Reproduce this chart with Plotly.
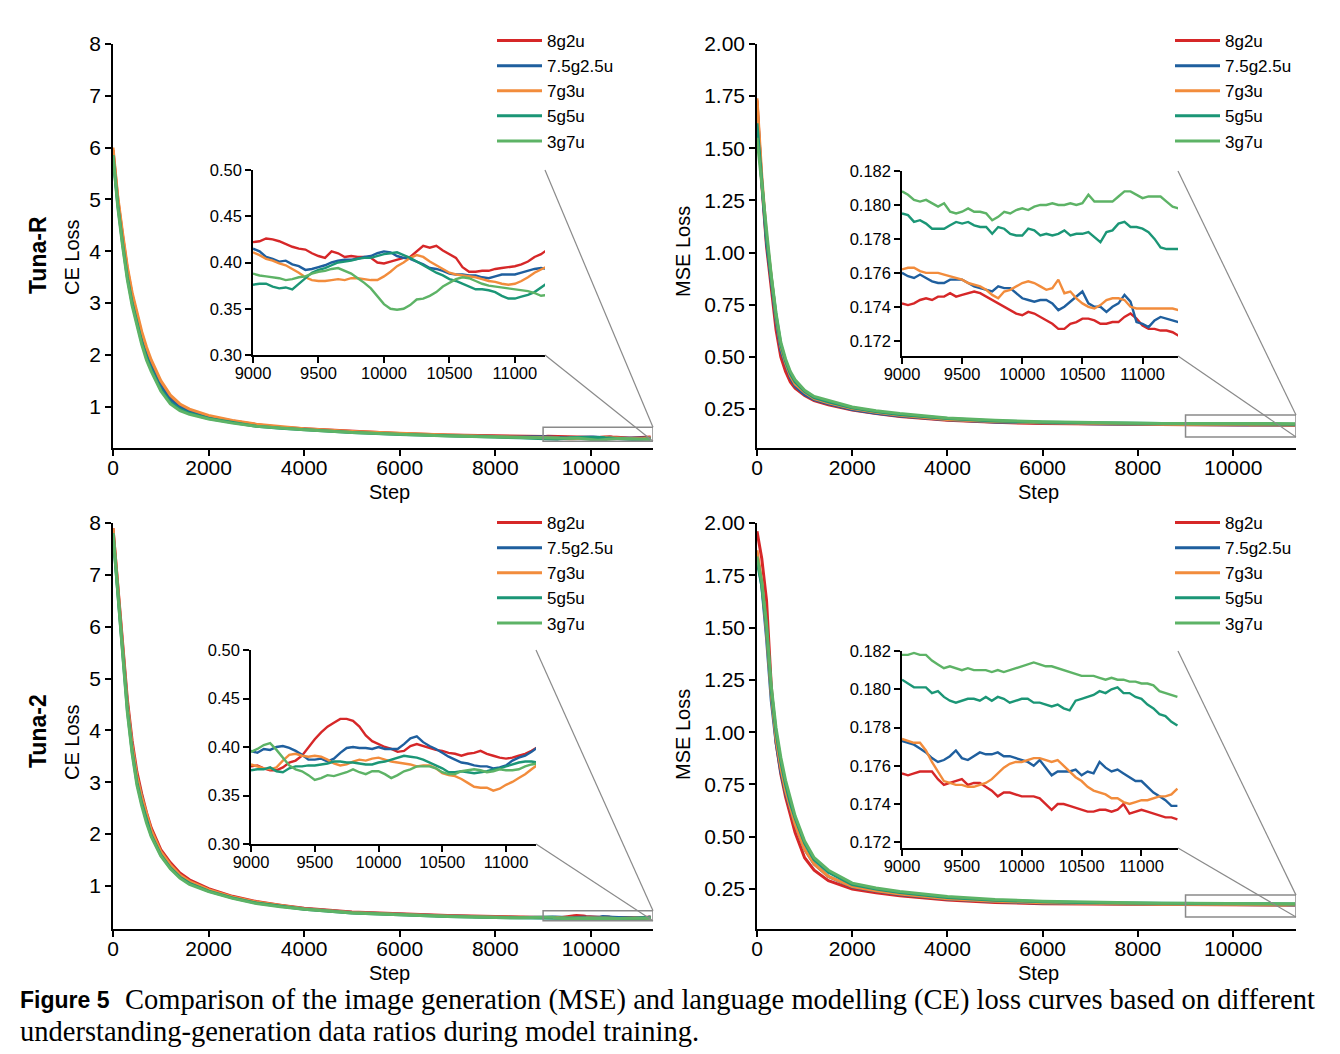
import plotly.graph_objects as go

# the page has an 8px body margin, so the figure is drawn 8px in from the corner;
# positions below are given in reference-picture pixels and shifted by OFF
OFF = 8
W, H = 1340 - OFF, 1054 - OFF
FONT = 'Liberation Sans, Arial, sans-serif'
SERIF = 'Liberation Serif, Times New Roman, serif'

names = ['8g2u', '7.5g2.5u', '7g3u', '5g5u', '3g7u']
colors = ['#d62728', '#1f5f9e', '#f28c3c', '#1b9676', '#5db366']

# steps of the full-run curves (before the zoomed window)
ce_steps = [0, 100, 200, 300, 400, 500, 600, 700, 800, 1000, 1200, 1400, 1600,
            2000, 2500, 3000, 3500, 4000, 5000, 6000, 7000, 8000, 8500]
mse_steps = [0, 100, 200, 300, 400, 500, 600, 700, 800, 1000, 1200, 1500,
             2000, 2500, 3000, 4000, 5000, 6000, 7000, 8000, 8500]
# steps inside the zoomed window
ce_zoom_steps = list(range(9000, 11251, 50))
mse_zoom_steps = list(range(9000, 11301, 50))

# ---- Tuna-R, CE loss ----
r_ce_8g2u = [5.95, 5.0, 4.3, 3.65, 3.15, 2.75, 2.4, 2.1, 1.85, 1.45, 1.18, 1.02, 0.93, 0.81, 0.72, 0.65, 0.6, 0.57, 0.52, 0.48, 0.45, 0.43, 0.425]
r_ce_75g25u = [5.9, 4.95, 4.2, 3.55, 3.05, 2.65, 2.3, 2.0, 1.78, 1.4, 1.14, 0.99, 0.91, 0.79, 0.70, 0.63, 0.59, 0.56, 0.51, 0.47, 0.44, 0.42, 0.41]
r_ce_7g3u = [6.0, 5.05, 4.35, 3.7, 3.2, 2.8, 2.45, 2.15, 1.9, 1.5, 1.22, 1.05, 0.95, 0.83, 0.73, 0.66, 0.61, 0.57, 0.52, 0.48, 0.45, 0.42, 0.41]
r_ce_5g5u = [5.85, 4.9, 4.15, 3.5, 3.0, 2.6, 2.25, 1.95, 1.72, 1.33, 1.08, 0.95, 0.87, 0.77, 0.69, 0.62, 0.58, 0.55, 0.50, 0.46, 0.43, 0.41, 0.40]
r_ce_3g7u = [5.85, 4.85, 4.1, 3.45, 2.95, 2.55, 2.2, 1.9, 1.68, 1.3, 1.05, 0.92, 0.85, 0.76, 0.68, 0.62, 0.58, 0.55, 0.50, 0.46, 0.43, 0.41, 0.40]

r_ce_zoom_8g2u = [0.422, 0.423, 0.426, 0.425, 0.423, 0.420, 0.417, 0.415, 0.414, 0.410,
                  0.407, 0.405, 0.412, 0.410, 0.406, 0.407, 0.406, 0.406, 0.405, 0.400,
                  0.399, 0.401, 0.403, 0.405, 0.406, 0.412, 0.418, 0.416, 0.418, 0.413,
                  0.409, 0.405, 0.395, 0.390, 0.390, 0.391, 0.391, 0.393, 0.394, 0.395,
                  0.396, 0.398, 0.401, 0.406, 0.409, 0.414]
r_ce_zoom_75g25u = [0.415, 0.412, 0.406, 0.404, 0.401, 0.402, 0.398, 0.396, 0.392, 0.393,
                    0.395, 0.397, 0.400, 0.402, 0.403, 0.403, 0.404, 0.406, 0.407, 0.410,
                    0.412, 0.411, 0.407, 0.405, 0.404, 0.401, 0.398, 0.394, 0.393, 0.391,
                    0.388, 0.387, 0.387, 0.386, 0.386, 0.384, 0.383, 0.385, 0.387, 0.387,
                    0.387, 0.389, 0.391, 0.393, 0.394, 0.393]
r_ce_zoom_7g3u = [0.411, 0.408, 0.404, 0.402, 0.399, 0.397, 0.393, 0.389, 0.384, 0.381,
                  0.380, 0.380, 0.381, 0.382, 0.381, 0.383, 0.383, 0.382, 0.381, 0.381,
                  0.385, 0.390, 0.396, 0.400, 0.405, 0.408, 0.406, 0.401, 0.397, 0.393,
                  0.389, 0.387, 0.386, 0.385, 0.384, 0.382, 0.380, 0.379, 0.377, 0.376,
                  0.377, 0.380, 0.384, 0.389, 0.393, 0.396]
r_ce_zoom_5g5u = [0.376, 0.377, 0.377, 0.374, 0.372, 0.373, 0.371, 0.377, 0.383, 0.389,
                  0.392, 0.394, 0.397, 0.400, 0.401, 0.402, 0.404, 0.405, 0.405, 0.407,
                  0.409, 0.410, 0.411, 0.408, 0.405, 0.401, 0.397, 0.393, 0.389, 0.386,
                  0.382, 0.380, 0.377, 0.374, 0.371, 0.371, 0.370, 0.368, 0.364, 0.361,
                  0.361, 0.363, 0.365, 0.368, 0.373, 0.378]
r_ce_zoom_3g7u = [0.388, 0.386, 0.385, 0.384, 0.383, 0.381, 0.382, 0.384, 0.385, 0.388,
                  0.390, 0.391, 0.393, 0.394, 0.391, 0.388, 0.383, 0.378, 0.372, 0.363,
                  0.355, 0.350, 0.349, 0.350, 0.354, 0.360, 0.361, 0.364, 0.368, 0.374,
                  0.378, 0.382, 0.384, 0.383, 0.380, 0.377, 0.375, 0.374, 0.373, 0.372,
                  0.371, 0.370, 0.369, 0.367, 0.364, 0.365]

# ---- Tuna-R, MSE loss ----
r_mse_8g2u = [1.73, 1.33, 1.03, 0.82, 0.63, 0.50, 0.43, 0.38, 0.35, 0.315, 0.29, 0.27, 0.245, 0.228, 0.214, 0.196, 0.186, 0.18, 0.177, 0.175, 0.1745]
r_mse_75g25u = [1.70, 1.34, 1.05, 0.85, 0.67, 0.53, 0.46, 0.40, 0.36, 0.32, 0.295, 0.275, 0.248, 0.23, 0.216, 0.198, 0.188, 0.182, 0.179, 0.177, 0.176]
r_mse_7g3u = [1.74, 1.37, 1.08, 0.87, 0.69, 0.55, 0.47, 0.41, 0.37, 0.33, 0.30, 0.28, 0.252, 0.234, 0.22, 0.2, 0.19, 0.184, 0.18, 0.177, 0.1765]
r_mse_5g5u = [1.62, 1.34, 1.07, 0.88, 0.70, 0.56, 0.48, 0.42, 0.38, 0.335, 0.305, 0.285, 0.256, 0.238, 0.224, 0.204, 0.193, 0.187, 0.183, 0.181, 0.180]
r_mse_3g7u = [1.55, 1.33, 1.08, 0.89, 0.71, 0.57, 0.49, 0.43, 0.39, 0.34, 0.31, 0.29, 0.26, 0.242, 0.228, 0.207, 0.196, 0.189, 0.185, 0.182, 0.181]

r_mse_zoom_8g2u = [0.1742, 0.1741, 0.1742, 0.1744, 0.1745, 0.1744, 0.1746, 0.1746, 0.1748, 0.1746,
                   0.1747, 0.1748, 0.1749, 0.1748, 0.1746, 0.1744, 0.1742, 0.1740, 0.1738, 0.1736,
                   0.1735, 0.1737, 0.1736, 0.1734, 0.1732, 0.1730, 0.1727, 0.1727, 0.1730, 0.1731,
                   0.1733, 0.1733, 0.1732, 0.1730, 0.1730, 0.1731, 0.1731, 0.1734, 0.1736, 0.1733,
                   0.1729, 0.1727, 0.1727, 0.1726, 0.1726, 0.1725, 0.1723]
r_mse_zoom_75g25u = [0.1760, 0.1758, 0.1757, 0.1759, 0.1757, 0.1755, 0.1754, 0.1754, 0.1756, 0.1756,
                     0.1756, 0.1754, 0.1752, 0.1751, 0.1750, 0.1749, 0.1752, 0.1751, 0.1751, 0.1748,
                     0.1745, 0.1744, 0.1743, 0.1744, 0.1744, 0.1742, 0.1738, 0.1740, 0.1743, 0.1746,
                     0.1749, 0.1742, 0.1740, 0.1740, 0.1737, 0.1740, 0.1742, 0.1747, 0.1743, 0.1731,
                     0.1730, 0.1728, 0.1732, 0.1734, 0.1733, 0.1732, 0.1731]
r_mse_zoom_7g3u = [0.1762, 0.1763, 0.1763, 0.1761, 0.1760, 0.1760, 0.1760, 0.1759, 0.1758, 0.1757,
                   0.1756, 0.1754, 0.1753, 0.1752, 0.1750, 0.1747, 0.1745, 0.1749, 0.1750, 0.1752,
                   0.1754, 0.1755, 0.1754, 0.1752, 0.1750, 0.1751, 0.1756, 0.1748, 0.1749, 0.1745,
                   0.1742, 0.1740, 0.1739, 0.1741, 0.1744, 0.1745, 0.1745, 0.1744, 0.1740, 0.1739,
                   0.1739, 0.1739, 0.1739, 0.1739, 0.1739, 0.1739, 0.1738]
r_mse_zoom_5g5u = [0.1795, 0.1794, 0.1790, 0.1791, 0.1789, 0.1786, 0.1786, 0.1786, 0.1788, 0.1790,
                   0.1789, 0.1790, 0.1788, 0.1787, 0.1787, 0.1783, 0.1787, 0.1786, 0.1783, 0.1782,
                   0.1782, 0.1786, 0.1785, 0.1782, 0.1783, 0.1782, 0.1783, 0.1785, 0.1782, 0.1783,
                   0.1783, 0.1784, 0.1781, 0.1778, 0.1784, 0.1785, 0.1789, 0.1790, 0.1787, 0.1787,
                   0.1786, 0.1784, 0.1780, 0.1775, 0.1774, 0.1774, 0.1774]
r_mse_zoom_3g7u = [0.1808, 0.1806, 0.1803, 0.1802, 0.1803, 0.1801, 0.1799, 0.1801, 0.1796, 0.1795,
                   0.1796, 0.1798, 0.1796, 0.1796, 0.1795, 0.1791, 0.1793, 0.1796, 0.1795, 0.1797,
                   0.1798, 0.1797, 0.1799, 0.1800, 0.1800, 0.1801, 0.1800, 0.1800, 0.1801, 0.1800,
                   0.1801, 0.1806, 0.1802, 0.1802, 0.1802, 0.1802, 0.1805, 0.1808, 0.1808, 0.1806,
                   0.1804, 0.1805, 0.1805, 0.1805, 0.1802, 0.1799, 0.1798]

# ---- Tuna-2, CE loss ----
t2_ce_8g2u = [7.9, 6.85, 5.7, 4.6, 3.8, 3.2, 2.78, 2.42, 2.12, 1.7, 1.45, 1.25, 1.12, 0.95, 0.8, 0.7, 0.63, 0.57, 0.5, 0.46, 0.43, 0.41, 0.40]
t2_ce_75g25u = [7.85, 6.8, 5.6, 4.5, 3.7, 3.1, 2.7, 2.35, 2.05, 1.65, 1.4, 1.2, 1.08, 0.92, 0.78, 0.68, 0.62, 0.56, 0.49, 0.45, 0.42, 0.40, 0.39]
t2_ce_7g3u = [7.9, 6.8, 5.62, 4.52, 3.72, 3.12, 2.72, 2.37, 2.07, 1.66, 1.41, 1.21, 1.09, 0.93, 0.79, 0.69, 0.62, 0.56, 0.49, 0.45, 0.42, 0.40, 0.39]
t2_ce_5g5u = [7.8, 6.7, 5.5, 4.4, 3.6, 3.0, 2.6, 2.27, 1.98, 1.6, 1.35, 1.17, 1.05, 0.9, 0.77, 0.67, 0.61, 0.55, 0.48, 0.44, 0.41, 0.39, 0.38]
t2_ce_3g7u = [7.8, 6.65, 5.45, 4.35, 3.55, 2.95, 2.55, 2.22, 1.95, 1.58, 1.33, 1.15, 1.03, 0.89, 0.76, 0.66, 0.6, 0.55, 0.48, 0.44, 0.41, 0.39, 0.385]

t2_ce_zoom_8g2u = [0.380, 0.381, 0.378, 0.376, 0.376, 0.379, 0.384, 0.386, 0.391, 0.400,
                   0.408, 0.415, 0.421, 0.425, 0.429, 0.429, 0.427, 0.421, 0.412, 0.406,
                   0.403, 0.400, 0.398, 0.395, 0.396, 0.401, 0.403, 0.401, 0.399, 0.397,
                   0.396, 0.394, 0.393, 0.391, 0.393, 0.394, 0.396, 0.393, 0.391, 0.389,
                   0.388, 0.389, 0.391, 0.393, 0.396, 0.400]
t2_ce_zoom_75g25u = [0.396, 0.394, 0.398, 0.397, 0.400, 0.401, 0.399, 0.396, 0.392, 0.387,
                     0.387, 0.388, 0.385, 0.388, 0.394, 0.399, 0.400, 0.399, 0.399, 0.398,
                     0.400, 0.398, 0.398, 0.398, 0.403, 0.409, 0.411, 0.405, 0.401, 0.398,
                     0.394, 0.390, 0.387, 0.384, 0.383, 0.381, 0.380, 0.380, 0.378, 0.379,
                     0.381, 0.386, 0.389, 0.391, 0.395, 0.400]
t2_ce_zoom_7g3u = [0.382, 0.380, 0.378, 0.377, 0.379, 0.386, 0.392, 0.393, 0.391, 0.390,
                   0.391, 0.390, 0.387, 0.383, 0.381, 0.382, 0.385, 0.387, 0.386, 0.388,
                   0.389, 0.387, 0.385, 0.384, 0.383, 0.382, 0.380, 0.381, 0.381, 0.378,
                   0.373, 0.371, 0.370, 0.367, 0.363, 0.359, 0.358, 0.358, 0.355, 0.357,
                   0.361, 0.364, 0.368, 0.372, 0.377, 0.382]
t2_ce_zoom_5g5u = [0.376, 0.377, 0.377, 0.379, 0.375, 0.374, 0.378, 0.380, 0.380, 0.381,
                   0.381, 0.382, 0.383, 0.385, 0.385, 0.384, 0.384, 0.383, 0.382, 0.382,
                   0.384, 0.385, 0.387, 0.389, 0.391, 0.390, 0.389, 0.387, 0.384, 0.381,
                   0.378, 0.374, 0.374, 0.375, 0.374, 0.373, 0.374, 0.375, 0.377, 0.378,
                   0.380, 0.382, 0.384, 0.385, 0.385, 0.384]
t2_ce_zoom_3g7u = [0.395, 0.398, 0.402, 0.404, 0.397, 0.389, 0.381, 0.377, 0.375, 0.371,
                   0.366, 0.368, 0.371, 0.370, 0.372, 0.374, 0.377, 0.374, 0.372, 0.375,
                   0.375, 0.372, 0.368, 0.371, 0.375, 0.377, 0.380, 0.380, 0.380, 0.378,
                   0.374, 0.372, 0.372, 0.375, 0.376, 0.377, 0.376, 0.374, 0.375, 0.377,
                   0.376, 0.376, 0.377, 0.380, 0.382, 0.383]

# ---- Tuna-2, MSE loss ----
t2_mse_8g2u = [1.96, 1.83, 1.63, 1.22, 0.95, 0.80, 0.69, 0.60, 0.52, 0.40, 0.34, 0.29, 0.25, 0.232, 0.218, 0.198, 0.186, 0.18, 0.178, 0.1765, 0.176]
t2_mse_75g25u = [1.85, 1.70, 1.45, 1.15, 0.95, 0.81, 0.71, 0.63, 0.56, 0.44, 0.37, 0.31, 0.26, 0.24, 0.224, 0.202, 0.19, 0.183, 0.18, 0.178, 0.1775]
t2_mse_7g3u = [1.87, 1.72, 1.48, 1.18, 0.97, 0.83, 0.72, 0.64, 0.56, 0.44, 0.37, 0.31, 0.262, 0.242, 0.226, 0.204, 0.192, 0.185, 0.181, 0.178, 0.1775]
t2_mse_5g5u = [1.82, 1.70, 1.50, 1.20, 1.0, 0.86, 0.75, 0.66, 0.59, 0.47, 0.39, 0.33, 0.272, 0.25, 0.233, 0.21, 0.197, 0.189, 0.185, 0.182, 0.181]
t2_mse_3g7u = [1.84, 1.72, 1.52, 1.22, 1.02, 0.88, 0.77, 0.68, 0.60, 0.48, 0.40, 0.34, 0.278, 0.255, 0.238, 0.214, 0.2, 0.192, 0.187, 0.184, 0.1825]

t2_mse_zoom_8g2u = [0.1756, 0.1755, 0.1756, 0.1757, 0.1757, 0.1757, 0.1753, 0.1750, 0.1751, 0.1752,
                    0.1753, 0.1750, 0.1751, 0.1751, 0.1749, 0.1747, 0.1744, 0.1746, 0.1746, 0.1745,
                    0.1744, 0.1744, 0.1744, 0.1743, 0.1740, 0.1737, 0.1740, 0.1740, 0.1739, 0.1738,
                    0.1737, 0.1736, 0.1736, 0.1737, 0.1737, 0.1736, 0.1737, 0.1740, 0.1735, 0.1736,
                    0.1737, 0.1736, 0.1735, 0.1734, 0.1733, 0.1733, 0.1732]
t2_mse_zoom_75g25u = [0.1773, 0.1772, 0.1771, 0.1769, 0.1767, 0.1764, 0.1762, 0.1763, 0.1765, 0.1768,
                      0.1764, 0.1763, 0.1765, 0.1767, 0.1766, 0.1766, 0.1767, 0.1765, 0.1765, 0.1764,
                      0.1763, 0.1762, 0.1760, 0.1763, 0.1759, 0.1755, 0.1757, 0.1757, 0.1757, 0.1758,
                      0.1755, 0.1757, 0.1756, 0.1762, 0.1759, 0.1757, 0.1758, 0.1756, 0.1754, 0.1752,
                      0.1752, 0.1749, 0.1746, 0.1744, 0.1742, 0.1739, 0.1739]
t2_mse_zoom_7g3u = [0.1774, 0.1773, 0.1772, 0.1772, 0.1768, 0.1762, 0.1757, 0.1752, 0.1751, 0.1750,
                    0.1750, 0.1749, 0.1749, 0.1750, 0.1751, 0.1753, 0.1756, 0.1759, 0.1761, 0.1762,
                    0.1762, 0.1763, 0.1764, 0.1764, 0.1763, 0.1762, 0.1763, 0.1760, 0.1757, 0.1754,
                    0.1752, 0.1749, 0.1747, 0.1746, 0.1745, 0.1743, 0.1743, 0.1741, 0.1740, 0.1741,
                    0.1742, 0.1742, 0.1743, 0.1744, 0.1744, 0.1745, 0.1748]
t2_mse_zoom_5g5u = [0.1805, 0.1803, 0.1801, 0.1801, 0.1801, 0.1798, 0.1799, 0.1796, 0.1794, 0.1793,
                    0.1794, 0.1795, 0.1795, 0.1794, 0.1796, 0.1794, 0.1796, 0.1795, 0.1793, 0.1794,
                    0.1795, 0.1795, 0.1793, 0.1793, 0.1792, 0.1791, 0.1792, 0.1790, 0.1789, 0.1794,
                    0.1795, 0.1796, 0.1797, 0.1799, 0.1798, 0.1800, 0.1801, 0.1798, 0.1798, 0.1796,
                    0.1795, 0.1792, 0.1790, 0.1787, 0.1786, 0.1783, 0.1781]
t2_mse_zoom_3g7u = [0.1818, 0.1818, 0.1819, 0.1818, 0.1818, 0.1815, 0.1813, 0.1811, 0.1812, 0.1811,
                    0.1810, 0.1811, 0.1810, 0.1810, 0.1810, 0.1809, 0.1810, 0.1809, 0.1810, 0.1811,
                    0.1812, 0.1813, 0.1814, 0.1813, 0.1812, 0.1812, 0.1811, 0.1810, 0.1809, 0.1808,
                    0.1807, 0.1807, 0.1807, 0.1806, 0.1805, 0.1806, 0.1805, 0.1805, 0.1804, 0.1804,
                    0.1803, 0.1803, 0.1802, 0.1799, 0.1798, 0.1797, 0.1796]

main_step_ticks = [0, 2000, 4000, 6000, 8000, 10000]
zoom_step_ticks = [9000, 9500, 10000, 10500, 11000]
ce_ticks = [1, 2, 3, 4, 5, 6, 7, 8]
mse_ticks = [0.25, 0.5, 0.75, 1.0, 1.25, 1.5, 1.75, 2.0]
ce_zoom_ticks = [0.30, 0.35, 0.40, 0.45, 0.50]
mse_zoom_ticks = [0.172, 0.174, 0.176, 0.178, 0.180, 0.182]


def px(a):
    return (a - OFF) / W


def py(b):
    return 1 - (b - OFF) / H


def xdom(a, b):
    return [px(a), px(b)]


def ydom(top, bottom):
    return [py(bottom), py(top)]


# one entry per panel: main axes, inset axes, zoom box
panels = [
    dict(early=[r_ce_8g2u, r_ce_75g25u, r_ce_7g3u, r_ce_5g5u, r_ce_3g7u],
         zoom=[r_ce_zoom_8g2u, r_ce_zoom_75g25u, r_ce_zoom_7g3u, r_ce_zoom_5g5u, r_ce_zoom_3g7u],
         steps=ce_steps, zsteps=ce_zoom_steps,
         xd=xdom(113, 653), yd=ydom(44, 448), xr=[0, 11300], yr=[0.2, 8],
         yt=ce_ticks, yf='d',
         ixd=xdom(253, 545), iyd=ydom(170, 355), ixr=[9000, 11230], iyr=[0.30, 0.50],
         iyt=ce_zoom_ticks, iyf='.2f', box=[9000, 11300, 0.33, 0.60]),
    dict(early=[r_mse_8g2u, r_mse_75g25u, r_mse_7g3u, r_mse_5g5u, r_mse_3g7u],
         zoom=[r_mse_zoom_8g2u, r_mse_zoom_75g25u, r_mse_zoom_7g3u, r_mse_zoom_5g5u, r_mse_zoom_3g7u],
         steps=mse_steps, zsteps=mse_zoom_steps,
         xd=xdom(757, 1296), yd=ydom(44, 448), xr=[0, 11320], yr=[0.063, 2.0],
         yt=mse_ticks, yf='.2f',
         ixd=xdom(902, 1178), iyd=ydom(171, 356), ixr=[9000, 11295], iyr=[0.1711, 0.182],
         iyt=mse_zoom_ticks, iyf='.3f', box=[9000, 11320, 0.116, 0.221]),
    dict(early=[t2_ce_8g2u, t2_ce_75g25u, t2_ce_7g3u, t2_ce_5g5u, t2_ce_3g7u],
         zoom=[t2_ce_zoom_8g2u, t2_ce_zoom_75g25u, t2_ce_zoom_7g3u, t2_ce_zoom_5g5u, t2_ce_zoom_3g7u],
         steps=ce_steps, zsteps=ce_zoom_steps,
         xd=xdom(113, 653), yd=ydom(523, 929), xr=[0, 11300], yr=[0.17, 8],
         yt=ce_ticks, yf='d',
         ixd=xdom(251, 536), iyd=ydom(650, 844), ixr=[9000, 11235], iyr=[0.30, 0.50],
         iyt=ce_zoom_ticks, iyf='.2f', box=[9000, 11300, 0.33, 0.52]),
    dict(early=[t2_mse_8g2u, t2_mse_75g25u, t2_mse_7g3u, t2_mse_5g5u, t2_mse_3g7u],
         zoom=[t2_mse_zoom_8g2u, t2_mse_zoom_75g25u, t2_mse_zoom_7g3u, t2_mse_zoom_5g5u, t2_mse_zoom_3g7u],
         steps=mse_steps, zsteps=mse_zoom_steps,
         xd=xdom(757, 1296), yd=ydom(523, 929), xr=[0, 11320], yr=[0.059, 2.0],
         yt=mse_ticks, yf='.2f',
         ixd=xdom(902, 1178), iyd=ydom(651, 848), ixr=[9000, 11305], iyr=[0.1717, 0.182],
         iyt=mse_zoom_ticks, iyf='.3f', box=[9000, 11320, 0.116, 0.221]),
]


def axis(dom, rng, tickvals, anchor, fmt='d', size=21, standoff=0):
    return dict(domain=dom, range=rng, tickvals=tickvals, anchor=anchor,
                tickformat=fmt, automargin=False, ticklabelstandoff=standoff,
                showline=True, linecolor='black', linewidth=1.5,
                ticks='outside', ticklen=6, tickwidth=1.5, tickcolor='black',
                showgrid=False, zeroline=False,
                tickfont=dict(family=FONT, size=size, color='black'))


def to_paper(v, dom, rng):
    return dom[0] + (v - rng[0]) / (rng[1] - rng[0]) * (dom[1] - dom[0])


fig = go.Figure()
layout = {}
shapes = []
legend_ids = ['legend', 'legend2', 'legend3', 'legend4']
legend_pos = [(492, 23), (1170, 23), (492, 505), (1170, 505)]

for k, p in enumerate(panels):
    n = k + 1
    m = k + 5
    xa, ya = ('x' if n == 1 else f'x{n}'), ('y' if n == 1 else f'y{n}')
    ixa, iya = f'x{m}', f'y{m}'
    for i, name in enumerate(names):
        fig.add_trace(go.Scatter(
            x=p['steps'] + p['zsteps'], y=p['early'][i] + p['zoom'][i],
            mode='lines', name=name, line=dict(color=colors[i], width=3),
            xaxis=xa, yaxis=ya, legend=legend_ids[k]))
    for i, name in enumerate(names):
        fig.add_trace(go.Scatter(
            x=p['zsteps'], y=p['zoom'][i], mode='lines', name=name,
            line=dict(color=colors[i], width=2.4),
            xaxis=ixa, yaxis=iya, showlegend=False))

    layout['xaxis' if n == 1 else f'xaxis{n}'] = axis(p['xd'], p['xr'], main_step_ticks, ya, standoff=-6)
    layout['yaxis' if n == 1 else f'yaxis{n}'] = axis(p['yd'], p['yr'], p['yt'], xa, p['yf'])
    layout[f'xaxis{m}'] = axis(p['ixd'], p['ixr'], zoom_step_ticks, iya, size=16.5, standoff=-4)
    layout[f'yaxis{m}'] = axis(p['iyd'], p['iyr'], p['iyt'], ixa, p['iyf'], size=16.5)

    lx, ly = legend_pos[k]
    layout[legend_ids[k]] = dict(x=px(lx), y=py(ly), xanchor='left', yanchor='top',
                                 bgcolor='rgba(0,0,0,0)', tracegroupgap=0, itemwidth=45,
                                 font=dict(family=FONT, size=17, color='black'))

    bx0, bx1, by0, by1 = p['box']
    shapes.append(dict(type='rect', xref=xa, yref=ya, x0=bx0, x1=bx1, y0=by0, y1=by1,
                       line=dict(color='#8a8a8a', width=1.5)))
    # connector lines from inset corners to the zoom box
    ix1 = p['ixd'][1]
    bxp = to_paper(bx1, p['xd'], p['xr'])
    shapes.append(dict(type='line', xref='paper', yref='paper',
                       x0=ix1, y0=p['iyd'][1], x1=bxp, y1=to_paper(by1, p['yd'], p['yr']),
                       line=dict(color='#8a8a8a', width=1.2)))
    shapes.append(dict(type='line', xref='paper', yref='paper',
                       x0=ix1, y0=p['iyd'][0], x1=bxp, y1=to_paper(by0, p['yd'], p['yr']),
                       line=dict(color='#8a8a8a', width=1.2)))


def note(text, x, y, size=20, angle=0, family=FONT, xanchor='center'):
    return dict(text=text, x=px(x), y=py(y), xref='paper', yref='paper',
                showarrow=False, textangle=angle, xanchor=xanchor, yanchor='middle',
                font=dict(family=family, size=size, color='black'))


annotations = [
    note('<b>Tuna-R</b>', 38, 255, size=23, angle=-90),
    note('<b>Tuna-2</b>', 38, 731, size=23, angle=-90),
    note('CE Loss', 72, 257, angle=-90),
    note('CE Loss', 72, 742, angle=-90),
    note('MSE Loss', 683, 252, angle=-90),
    note('MSE Loss', 683, 735, angle=-90),
    note('Step', 390, 492),
    note('Step', 1038, 492),
    note('Step', 390, 973),
    note('Step', 1038, 973),
    note('<b>Figure 5</b>', 18, 1000, size=23, xanchor='left'),
    note('Comparison of the image generation (MSE) and language modelling (CE) loss curves based on different',
         123, 1000, size=28.5, family=SERIF, xanchor='left'),
    note('understanding-generation data ratios during model training.',
         18, 1031, size=28.5, family=SERIF, xanchor='left'),
]

fig.update_layout(
    width=W, height=H,
    margin=dict(l=0, r=0, t=0, b=0),
    paper_bgcolor='white', plot_bgcolor='white',
    shapes=shapes, annotations=annotations,
    **layout
)

fig.write_html('out.html')
